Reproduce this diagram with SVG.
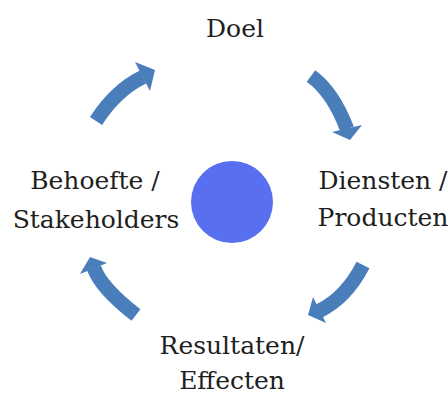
<svg xmlns="http://www.w3.org/2000/svg" width="448" height="417" viewBox="0 0 448 417">
<style>
.lbl{font-family:"DejaVu Serif","Liberation Serif",serif;font-size:25px;fill:#1e1e1e;text-anchor:middle}
.body{fill:none;stroke:#4A7EBB;stroke-width:14.5;stroke-linecap:butt}
.head{fill:#4A7EBB}
</style>
<rect width="448" height="417" fill="#ffffff"/>
<g id="connectors">
<path class="body" d="M96,121 Q116,90 143,77"/>
<polygon class="head" points="135,62 155,70 150,91"/>
<path class="body" d="M311,76 Q333,92 347,129"/>
<polygon class="head" points="332,132 350,140 362,125"/>
<path class="body" d="M363,265 Q346,298 319,311"/>
<polygon class="head" points="313,297 308,315 326,323"/>
<path class="body" d="M136,315 Q101,288 94,268"/>
<polygon class="head" points="80,274 90,257 107,263"/>
</g>
<g id="center"><circle cx="232" cy="202" r="41" fill="#5870F0"/></g>
<g id="doel"><text class="lbl" x="235" y="37">Doel</text></g>
<g id="diensten"><text class="lbl" x="383" y="189">Diensten /</text><text class="lbl" x="383" y="226">Producten</text></g>
<g id="resultaten"><text class="lbl" x="232" y="354">Resultaten/</text><text class="lbl" x="232" y="389">Effecten</text></g>
<g id="behoefte"><text class="lbl" x="95" y="189">Behoefte /</text><text class="lbl" x="96" y="228">Stakeholders</text></g>
</svg>
